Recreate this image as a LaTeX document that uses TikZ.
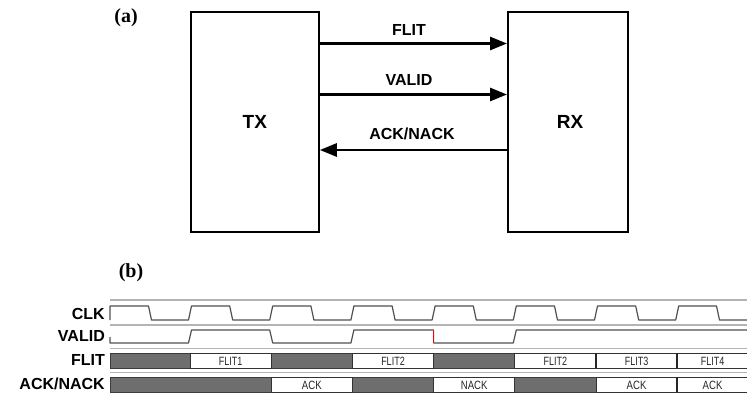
\documentclass[tikz,border=0pt]{standalone}
\usepackage{fontspec}
\usepackage{graphicx}
\setmainfont{Liberation Serif}
\setsansfont{Liberation Sans}
\usetikzlibrary{arrows.meta}
\definecolor{darkcell}{HTML}{6E6E6E}
\definecolor{darkedge}{HTML}{3C3C3C}
\definecolor{sepgray}{HTML}{B4B4B4}
\definecolor{wavec}{HTML}{505050}
\begin{document}
\begin{tikzpicture}[x=1pt,y=-1pt,
  blk/.style={draw=black,line width=2pt,inner sep=0pt,minimum height=220pt},
  boxlbl/.style={font=\sffamily\bfseries\fontsize{19}{22}\selectfont,inner sep=0pt},
  sig/.style={font=\sffamily\bfseries\fontsize{16}{19}\selectfont,inner sep=0pt},
  tag/.style={font=\rmfamily\bfseries\fontsize{20}{24}\selectfont,inner sep=0pt},
  link/.style={line width=2.8pt,-{Triangle[length=17pt,width=13pt]}},
  sepline/.style={draw=sepgray,line width=1.5pt},
  wave/.style={draw=wavec,line width=1.2pt,line join=round},
  celld/.style={fill=darkcell,draw=darkedge,line width=0.8pt},
  cellw/.style={fill=white,draw=black!80,line width=1pt},
  celltxt/.style={font=\sffamily\fontsize{12}{14}\selectfont,text=black!85,inner sep=0pt}
]
\useasboundingbox (0,0) rectangle (747,393);

% ---------- part (a) ----------
\node[tag] (ta) at (126,17.5) {(a)};
\node[blk,minimum width=128pt] (tx) at (254.8,122) {};
\node[blk,minimum width=120pt] (rx) at (568,122) {};
\node[boxlbl] (txl) at (tx.center) {TX};
\node[boxlbl] (rxl) at ([xshift=2pt]rx.center) {RX};

\coordinate (yf) at (0,43.5);
\coordinate (yv) at (0,94.5);
\coordinate (ya) at (0,150);
\draw[link] (yf -| tx.east) -- (yf -| rx.west);
\draw[link] (yv -| tx.east) -- (yv -| rx.west);
\draw[link] (ya -| rx.west) -- (ya -| tx.east);
\node[sig,anchor=base] (lf) at (409,35.7) {FLIT};
\node[sig,anchor=base] (lv) at (409,85.7) {VALID};
\node[sig,anchor=base] (la) at (412,140) {ACK/NACK};

% ---------- part (b) ----------
\node[tag] (tb) at (131,272.5) {(b)};
\node[sig,anchor=east] (lclk) at (105,314) {CLK};
\node[sig,anchor=east] (lval) at (105,336) {VALID};
\node[sig,anchor=east] (lfl) at (105,360) {FLIT};
\node[sig,anchor=east] (lack) at (105,384) {ACK/NACK};

% separators
\draw[sepgray,line width=2.2pt] (110,300) -- (747,300);
\draw[sepline] (110,325) -- (747,325);
\draw[sepline] (110,348.5) -- (747,348.5);
\draw[sepline] (110,372.5) -- (747,372.5);

% CLK
\draw[wave] (110,320) -- (110,306)
  \foreach \k in {0,...,6} {
    -- ({150+81.2*\k-1.5},306) -- ({150+81.2*\k+1.5},320)
    -- ({190+81.2*\k-1.5},320) -- ({190+81.2*\k+1.5},306) }
  -- (716.5,306) -- (719.5,320) -- (747,320);

% VALID
\draw[wave] (110,337) -- (110,343) -- (188.5,343) -- (191.5,330)
  -- (269.7,330) -- (272.7,343) -- (350.9,343) -- (353.9,330)
  -- (433.6,330) -- (433.6,343) -- (513.3,343) -- (516.3,330) -- (747,330);
\draw[red,line width=1.2pt] (433.6,330) -- (433.6,343);

% FLIT row
\foreach \a/\b in {110/190, 271.2/352.4, 433.6/514.8}
  \draw[celld] (\a,353) rectangle (\b,368);
\foreach \a/\b/\t [count=\i] in {190/271.2/FLIT1, 352.4/433.6/FLIT2, 514.8/596/FLIT2, 596/677.2/FLIT3, 677.2/748/FLIT4} {
  \draw[cellw] (\a,353) rectangle (\b,368);
  \node[celltxt] (fc\i) at ({(\a+\b)/2},361) {\scalebox{0.75}[1]{\t}};
}
\draw[black!85,line width=1.8pt] (596,353) -- (596,368);
\draw[black!85,line width=1.8pt] (677.2,353) -- (677.2,368);

% ACK/NACK row
\foreach \a/\b in {110/271.2, 352.4/433.6, 514.8/596}
  \draw[celld] (\a,377) rectangle (\b,392);
\foreach \a/\b/\t [count=\i] in {271.2/352.4/ACK, 433.6/514.8/NACK, 596/677.2/ACK, 677.2/748/ACK} {
  \draw[cellw] (\a,377) rectangle (\b,392);
  \node[celltxt] (ac\i) at ({(\a+\b)/2},385) {\scalebox{0.8}[1]{\t}};
}
\draw[black!85,line width=1.8pt] (677.2,377) -- (677.2,392);
\end{tikzpicture}
\end{document}
